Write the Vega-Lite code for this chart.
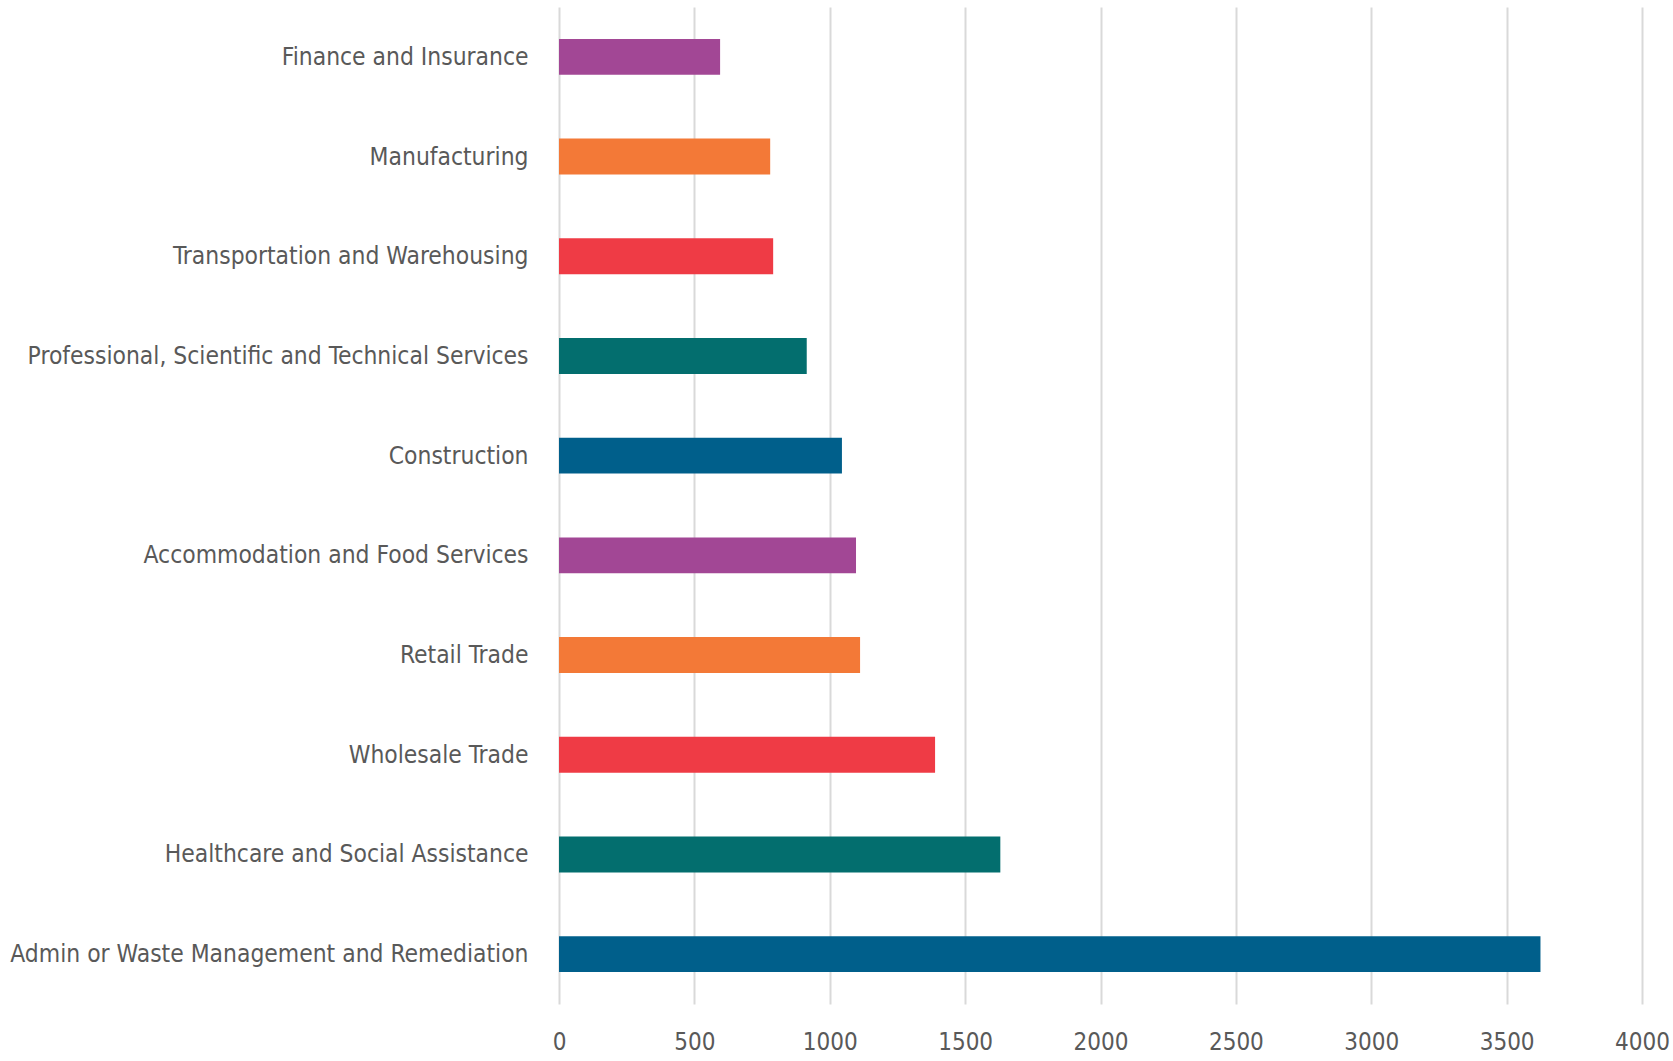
{
  "$schema": "https://vega.github.io/schema/vega-lite/v6.json",
  "autosize": {"type": "none"},
  "padding": {"left": 559, "top": 7, "right": 31, "bottom": 57},
  "width": 1083,
  "height": 997,
  "background": "white",
  "data": {
    "values": [
      {"industry": "Finance and Insurance", "count": 595},
      {"industry": "Manufacturing", "count": 780},
      {"industry": "Transportation and Warehousing", "count": 791},
      {"industry": "Professional, Scientific and Technical Services", "count": 915},
      {"industry": "Construction", "count": 1045},
      {"industry": "Accommodation and Food Services", "count": 1097},
      {"industry": "Retail Trade", "count": 1112},
      {"industry": "Wholesale Trade", "count": 1389},
      {"industry": "Healthcare and Social Assistance", "count": 1630},
      {"industry": "Admin or Waste Management and Remediation", "count": 3625}
    ]
  },
  "config": {
    "view": {"stroke": null},
    "font": "DejaVu Sans Condensed"
  },
  "mark": {"type": "bar"},
  "encoding": {
    "y": {
      "field": "industry",
      "type": "nominal",
      "sort": null,
      "scale": {"paddingInner": 0.64, "paddingOuter": 0.32},
      "axis": {
        "title": null,
        "domain": false,
        "ticks": false,
        "grid": false,
        "labelPadding": 31,
        "labelOffset": 1,
        "labelFontSize": 24.4,
        "labelColor": "#595959",
        "labelFont": "DejaVu Sans Condensed",
        "labelLimit": 600
      }
    },
    "x": {
      "field": "count",
      "type": "quantitative",
      "scale": {"domain": [0, 4000], "nice": false},
      "axis": {
        "title": null,
        "values": [0, 500, 1000, 1500, 2000, 2500, 3000, 3500, 4000],
        "format": "d",
        "domain": false,
        "ticks": false,
        "grid": true,
        "gridColor": "#d9d9d9",
        "gridWidth": 2,
        "labelPadding": 26,
        "labelFontSize": 24,
        "labelColor": "#595959",
        "labelFont": "DejaVu Sans Condensed",
        "labelBaseline": "top",
        "labelFlush": false
      }
    },
    "color": {
      "field": "industry",
      "type": "nominal",
      "legend": null,
      "scale": {
        "domain": [
          "Finance and Insurance",
          "Manufacturing",
          "Transportation and Warehousing",
          "Professional, Scientific and Technical Services",
          "Construction",
          "Accommodation and Food Services",
          "Retail Trade",
          "Wholesale Trade",
          "Healthcare and Social Assistance",
          "Admin or Waste Management and Remediation"
        ],
        "range": ["#a24795", "#f37937", "#ef3b45", "#036e6e", "#005f8b", "#a24795", "#f37937", "#ef3b45", "#036e6e", "#005f8b"]
      }
    }
  }
}
